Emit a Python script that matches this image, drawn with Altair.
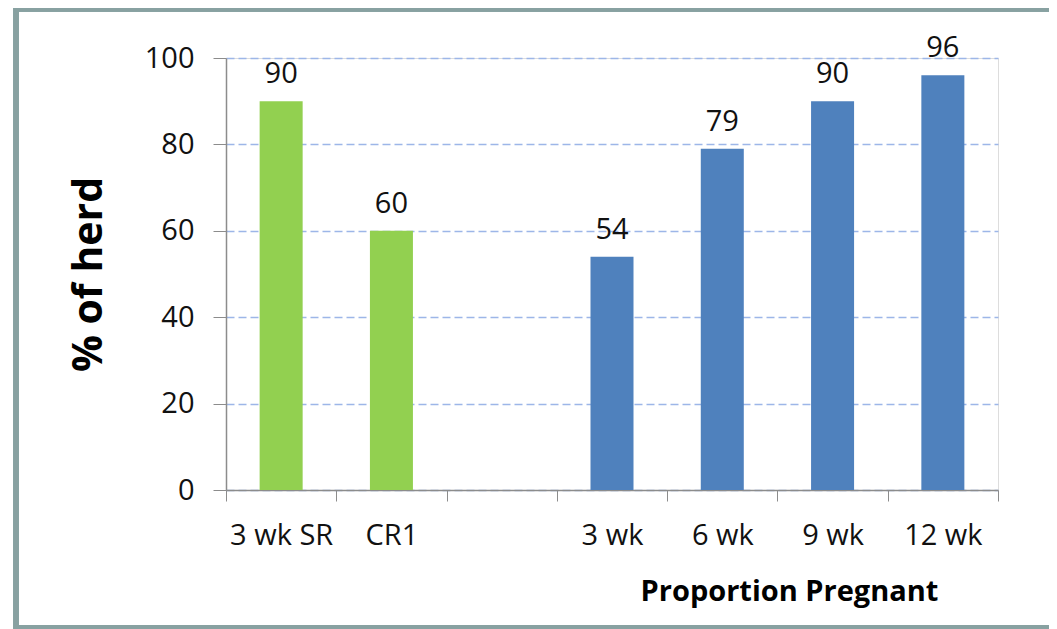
import altair as alt
import pandas as pd

categories = ["3 wk SR", "CR1", " ", "3 wk", "6 wk", "9 wk", "12 wk"]
bar_categories = ["3 wk SR", "CR1", "3 wk", "6 wk", "9 wk", "12 wk"]
values = [90, 60, 54, 79, 90, 96]
groups = ["green", "green", "blue", "blue", "blue", "blue"]
y_ticks = [0, 20, 40, 60, 80, 100]

df = pd.DataFrame({"cat": bar_categories, "val": values, "grp": groups})

FONT = "Open Sans"
W, H = 772, 432
FRAME = "#88a1a1"

x_enc = alt.X(
    "cat:N",
    sort=categories,
    scale=alt.Scale(domain=categories, paddingInner=0, paddingOuter=0),
    axis=alt.Axis(
        title="Proportion Pregnant",
        tickBand="extent",
        labelAngle=0,
        labelFont=FONT,
        labelFontSize=29,
        labelColor="#111111",
        labelPadding=20,
        tickSize=11,
        tickColor="#8c8c8c",
        domainColor="#8c8c8c",
        domainWidth=1.5,
        titleFont=FONT,
        titleFontSize=29,
        titleFontWeight="bold",
        titleColor="#000000",
        titleX=563,
        titleY=110,
        titleAlign="center",
        titleBaseline="alphabetic",
        grid=False,
    ),
)

y_enc = alt.Y(
    "val:Q",
    scale=alt.Scale(domain=[0, 100], nice=False),
    axis=alt.Axis(
        title="% of herd",
        values=y_ticks,
        labelFont=FONT,
        labelFontSize=29,
        labelColor="#111111",
        labelPadding=19,
        tickSize=13,
        tickColor="#8c8c8c",
        domainColor="#8c8c8c",
        domainWidth=1.5,
        titleFont=FONT,
        titleFontSize=41,
        titleFontWeight="bold",
        titleColor="#000000",
        titlePadding=34,
        grid=True,
        gridColor="#9db6e8",
        gridDash=[8, 4],
        gridWidth=1.5,
    ),
)

bars = alt.Chart(df).mark_bar(width=alt.RelativeBandSize(0.39)).encode(
    x=x_enc,
    y=y_enc,
    color=alt.Color(
        "grp:N",
        scale=alt.Scale(domain=["green", "blue"], range=["#92d050", "#4f81bd"]),
        legend=None,
    ),
)

labels = alt.Chart(df).mark_text(
    font=FONT, fontSize=29, color="#111111", baseline="alphabetic", dy=-18
).encode(
    x=alt.X("cat:N", sort=categories),
    y=alt.Y("val:Q"),
    text=alt.Text("val:Q"),
)

# decorative frame (left, top, bottom edges)
frame_left = alt.Chart(df).mark_rule(stroke=FRAME, strokeWidth=5, clip=False).encode(
    x=alt.value(-210), y=alt.value(-52), y2=alt.value(571)
)
frame_top = alt.Chart(df).mark_rule(stroke=FRAME, strokeWidth=5, clip=False).encode(
    x=alt.value(-212), x2=alt.value(830), y=alt.value(-49)
)
frame_bottom = alt.Chart(df).mark_rule(stroke=FRAME, strokeWidth=4, clip=False).encode(
    x=alt.value(-212), x2=alt.value(830), y=alt.value(569)
)
edge_mask = alt.Chart(df).mark_rule(stroke="white", strokeWidth=6, clip=False).encode(
    x=alt.value(820), y=alt.value(-46), y2=alt.value(567)
)

chart = (
    alt.layer(frame_left, frame_top, frame_bottom, bars, labels, edge_mask)
    .properties(
        width=W,
        height=H,
        autosize=alt.AutoSizeParams(type="none"),
        padding={"left": 218, "top": 50, "right": 51, "bottom": 139},
    )
    .configure_view(stroke=None)
    .configure(background="white")
)

chart.save("out.html", embed_options={"renderer": "svg", "actions": False})
